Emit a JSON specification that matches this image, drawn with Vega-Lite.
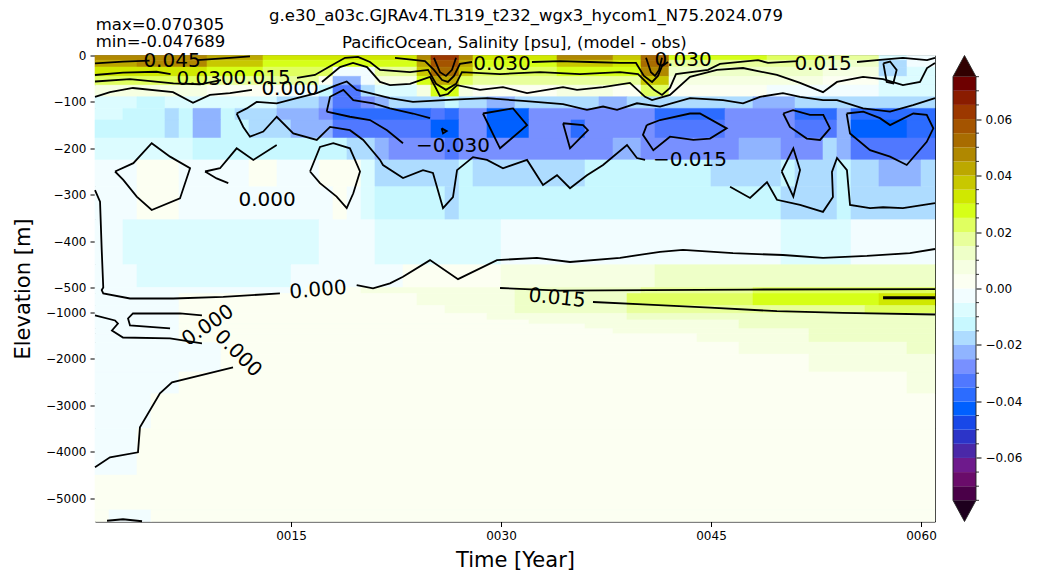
{
  "$schema": "https://vega.github.io/schema/vega-lite/v6.json",
  "autosize": {"type": "none"},
  "padding": {"left": 95, "top": 55.5, "right": 943, "bottom": 528.5},
  "background": "white",
  "config": {
    "font": "DejaVu Sans",
    "view": {"stroke": "#000", "strokeWidth": 1},
    "axis": {"labelFont": "DejaVu Sans", "titleFont": "DejaVu Sans", "labelColor": "#000", "titleColor": "#000", "tickColor": "#000", "domain": false, "grid": false, "titleFontWeight": "normal", "labelFontSize": 12, "titleFontSize": 21, "tickSize": 5}
  },
  "datasets": {
    "cells": [
      {"x0":1,"x1":9,"e0":0,"e1":-10,"v":0.0475},{"x0":9,"x1":13,"e0":0,"e1":-10,"v":0.0425},{"x0":13,"x1":24,"e0":0,"e1":-10,"v":0.0325},{"x0":24,"x1":25,"e0":0,"e1":-10,"v":0.0475},{"x0":25,"x1":27,"e0":0,"e1":-10,"v":0.0625},{"x0":27,"x1":28,"e0":0,"e1":-10,"v":0.0475},{"x0":28,"x1":34,"e0":0,"e1":-10,"v":0.0325},{"x0":34,"x1":38,"e0":0,"e1":-10,"v":0.0475},{"x0":38,"x1":40,"e0":0,"e1":-10,"v":0.0375},{"x0":40,"x1":42,"e0":0,"e1":-10,"v":0.0525},{"x0":42,"x1":49,"e0":0,"e1":-10,"v":0.0275},{"x0":49,"x1":53,"e0":0,"e1":-10,"v":0.0225},{"x0":53,"x1":57,"e0":0,"e1":-10,"v":0.0175},{"x0":57,"x1":59,"e0":0,"e1":-10,"v":-0.0075},{"x0":59,"x1":61,"e0":0,"e1":-10,"v":-0.0025},
      {"x0":1,"x1":4,"e0":-10,"e1":-25,"v":0.0425},{"x0":4,"x1":9,"e0":-10,"e1":-25,"v":0.0475},{"x0":9,"x1":13,"e0":-10,"e1":-25,"v":0.0375},{"x0":13,"x1":24,"e0":-10,"e1":-25,"v":0.0275},{"x0":24,"x1":25,"e0":-10,"e1":-25,"v":0.0425},{"x0":25,"x1":27,"e0":-10,"e1":-25,"v":0.0575},{"x0":27,"x1":28,"e0":-10,"e1":-25,"v":0.0425},{"x0":28,"x1":34,"e0":-10,"e1":-25,"v":0.0275},{"x0":34,"x1":38,"e0":-10,"e1":-25,"v":0.0375},{"x0":38,"x1":40,"e0":-10,"e1":-25,"v":0.0325},{"x0":40,"x1":42,"e0":-10,"e1":-25,"v":0.0525},{"x0":42,"x1":49,"e0":-10,"e1":-25,"v":0.0175},{"x0":49,"x1":53,"e0":-10,"e1":-25,"v":0.0175},{"x0":53,"x1":57,"e0":-10,"e1":-25,"v":0.0125},{"x0":57,"x1":59,"e0":-10,"e1":-25,"v":-0.0175},{"x0":59,"x1":61,"e0":-10,"e1":-25,"v":-0.0025},
      {"x0":1,"x1":9,"e0":-25,"e1":-45,"v":0.0325},{"x0":9,"x1":13,"e0":-25,"e1":-45,"v":0.0275},{"x0":13,"x1":18,"e0":-25,"e1":-45,"v":0.0225},{"x0":18,"x1":21,"e0":-25,"e1":-45,"v":-0.0025},{"x0":21,"x1":24,"e0":-25,"e1":-45,"v":0.0175},{"x0":24,"x1":25,"e0":-25,"e1":-45,"v":0.0375},{"x0":25,"x1":27,"e0":-25,"e1":-45,"v":0.0525},{"x0":27,"x1":28,"e0":-25,"e1":-45,"v":0.0375},{"x0":28,"x1":34,"e0":-25,"e1":-45,"v":0.0225},{"x0":34,"x1":40,"e0":-25,"e1":-45,"v":0.0275},{"x0":40,"x1":42,"e0":-25,"e1":-45,"v":0.0475},{"x0":42,"x1":49,"e0":-25,"e1":-45,"v":0.0125},{"x0":49,"x1":53,"e0":-25,"e1":-45,"v":0.0125},{"x0":53,"x1":57,"e0":-25,"e1":-45,"v":0.0075},{"x0":57,"x1":59,"e0":-25,"e1":-45,"v":-0.0175},{"x0":59,"x1":61,"e0":-25,"e1":-45,"v":-0.0075},
      {"x0":1,"x1":9,"e0":-45,"e1":-64,"v":0.0225},{"x0":9,"x1":17,"e0":-45,"e1":-64,"v":0.0175},{"x0":17,"x1":18,"e0":-45,"e1":-64,"v":0.0025},{"x0":18,"x1":20,"e0":-45,"e1":-64,"v":-0.0225},{"x0":20,"x1":21,"e0":-45,"e1":-64,"v":-0.0025},{"x0":21,"x1":24,"e0":-45,"e1":-64,"v":0.0075},{"x0":24,"x1":25,"e0":-45,"e1":-64,"v":0.0275},{"x0":25,"x1":27,"e0":-45,"e1":-64,"v":0.0425},{"x0":27,"x1":28,"e0":-45,"e1":-64,"v":0.0225},{"x0":28,"x1":40,"e0":-45,"e1":-64,"v":0.0175},{"x0":40,"x1":42,"e0":-45,"e1":-64,"v":0.0375},{"x0":42,"x1":49,"e0":-45,"e1":-64,"v":0.0075},{"x0":49,"x1":53,"e0":-45,"e1":-64,"v":0.0075},{"x0":53,"x1":57,"e0":-45,"e1":-64,"v":0.0025},{"x0":57,"x1":61,"e0":-45,"e1":-64,"v":-0.0075},
      {"x0":1,"x1":9,"e0":-64,"e1":-89,"v":0.0075},{"x0":9,"x1":15,"e0":-64,"e1":-89,"v":0.0025},{"x0":15,"x1":17,"e0":-64,"e1":-89,"v":-0.0025},{"x0":17,"x1":18,"e0":-64,"e1":-89,"v":-0.0125},{"x0":18,"x1":20,"e0":-64,"e1":-89,"v":-0.0325},{"x0":20,"x1":21,"e0":-64,"e1":-89,"v":-0.0175},{"x0":21,"x1":24,"e0":-64,"e1":-89,"v":-0.0075},{"x0":24,"x1":25,"e0":-64,"e1":-89,"v":0.0075},{"x0":25,"x1":27,"e0":-64,"e1":-89,"v":0.0275},{"x0":27,"x1":28,"e0":-64,"e1":-89,"v":0.0075},{"x0":28,"x1":34,"e0":-64,"e1":-89,"v":0.0025},{"x0":34,"x1":38,"e0":-64,"e1":-89,"v":0.0075},{"x0":38,"x1":40,"e0":-64,"e1":-89,"v":0.0025},{"x0":40,"x1":42,"e0":-64,"e1":-89,"v":0.0225},{"x0":42,"x1":49,"e0":-64,"e1":-89,"v":0.0025},{"x0":49,"x1":57,"e0":-64,"e1":-89,"v":-0.0025},{"x0":57,"x1":61,"e0":-64,"e1":-89,"v":-0.0075},
      {"x0":1,"x1":4,"e0":-89,"e1":-114,"v":-0.0075},{"x0":4,"x1":6,"e0":-89,"e1":-114,"v":-0.0125},{"x0":6,"x1":14,"e0":-89,"e1":-114,"v":-0.0075},{"x0":14,"x1":17,"e0":-89,"e1":-114,"v":-0.0175},{"x0":17,"x1":18,"e0":-89,"e1":-114,"v":-0.0225},{"x0":18,"x1":20,"e0":-89,"e1":-114,"v":-0.0325},{"x0":20,"x1":21,"e0":-89,"e1":-114,"v":-0.0275},{"x0":21,"x1":22,"e0":-89,"e1":-114,"v":-0.0225},{"x0":22,"x1":26,"e0":-89,"e1":-114,"v":-0.0175},{"x0":26,"x1":27,"e0":-89,"e1":-114,"v":-0.0125},{"x0":27,"x1":29,"e0":-89,"e1":-114,"v":-0.0175},{"x0":29,"x1":31,"e0":-89,"e1":-114,"v":-0.0225},{"x0":31,"x1":37,"e0":-89,"e1":-114,"v":-0.0175},{"x0":37,"x1":39,"e0":-89,"e1":-114,"v":-0.0225},{"x0":39,"x1":48,"e0":-89,"e1":-114,"v":-0.0175},{"x0":48,"x1":51,"e0":-89,"e1":-114,"v":-0.0225},{"x0":51,"x1":61,"e0":-89,"e1":-114,"v":-0.0175},
      {"x0":1,"x1":3,"e0":-114,"e1":-139,"v":-0.0075},{"x0":3,"x1":6,"e0":-114,"e1":-139,"v":-0.0125},{"x0":6,"x1":7,"e0":-114,"e1":-139,"v":-0.0175},{"x0":7,"x1":8,"e0":-114,"e1":-139,"v":-0.0125},{"x0":8,"x1":10,"e0":-114,"e1":-139,"v":-0.0225},{"x0":10,"x1":11,"e0":-114,"e1":-139,"v":-0.0125},{"x0":11,"x1":14,"e0":-114,"e1":-139,"v":-0.0175},{"x0":14,"x1":17,"e0":-114,"e1":-139,"v":-0.0225},{"x0":17,"x1":18,"e0":-114,"e1":-139,"v":-0.0275},{"x0":18,"x1":25,"e0":-114,"e1":-139,"v":-0.0375},{"x0":25,"x1":26,"e0":-114,"e1":-139,"v":-0.0325},{"x0":26,"x1":27,"e0":-114,"e1":-139,"v":-0.0375},{"x0":27,"x1":29,"e0":-114,"e1":-139,"v":-0.0275},{"x0":29,"x1":32,"e0":-114,"e1":-139,"v":-0.0425},{"x0":32,"x1":41,"e0":-114,"e1":-139,"v":-0.0275},{"x0":41,"x1":46,"e0":-114,"e1":-139,"v":-0.0375},{"x0":46,"x1":51,"e0":-114,"e1":-139,"v":-0.0275},{"x0":51,"x1":54,"e0":-114,"e1":-139,"v":-0.0375},{"x0":54,"x1":55,"e0":-114,"e1":-139,"v":-0.0225},{"x0":55,"x1":61,"e0":-114,"e1":-139,"v":-0.0375},
      {"x0":1,"x1":6,"e0":-139,"e1":-178,"v":-0.0125},{"x0":6,"x1":7,"e0":-139,"e1":-178,"v":-0.0175},{"x0":7,"x1":8,"e0":-139,"e1":-178,"v":-0.0125},{"x0":8,"x1":10,"e0":-139,"e1":-178,"v":-0.0225},{"x0":10,"x1":12,"e0":-139,"e1":-178,"v":-0.0125},{"x0":12,"x1":15,"e0":-139,"e1":-178,"v":-0.0175},{"x0":15,"x1":18,"e0":-139,"e1":-178,"v":-0.0225},{"x0":18,"x1":25,"e0":-139,"e1":-178,"v":-0.0325},{"x0":25,"x1":27,"e0":-139,"e1":-178,"v":-0.0425},{"x0":27,"x1":29,"e0":-139,"e1":-178,"v":-0.0275},{"x0":29,"x1":32,"e0":-139,"e1":-178,"v":-0.0425},{"x0":32,"x1":35,"e0":-139,"e1":-178,"v":-0.0275},{"x0":35,"x1":36,"e0":-139,"e1":-178,"v":-0.0375},{"x0":36,"x1":41,"e0":-139,"e1":-178,"v":-0.0275},{"x0":41,"x1":46,"e0":-139,"e1":-178,"v":-0.0325},{"x0":46,"x1":51,"e0":-139,"e1":-178,"v":-0.0275},{"x0":51,"x1":54,"e0":-139,"e1":-178,"v":-0.0325},{"x0":54,"x1":55,"e0":-139,"e1":-178,"v":-0.0225},{"x0":55,"x1":59,"e0":-139,"e1":-178,"v":-0.0425},{"x0":59,"x1":61,"e0":-139,"e1":-178,"v":-0.0375},
      {"x0":1,"x1":8,"e0":-178,"e1":-225,"v":-0.0075},{"x0":8,"x1":19,"e0":-178,"e1":-225,"v":-0.0125},{"x0":19,"x1":21,"e0":-178,"e1":-225,"v":-0.0175},{"x0":21,"x1":22,"e0":-178,"e1":-225,"v":-0.0225},{"x0":22,"x1":26,"e0":-178,"e1":-225,"v":-0.0275},{"x0":26,"x1":27,"e0":-178,"e1":-225,"v":-0.0325},{"x0":27,"x1":38,"e0":-178,"e1":-225,"v":-0.0275},{"x0":38,"x1":40,"e0":-178,"e1":-225,"v":-0.0225},{"x0":40,"x1":47,"e0":-178,"e1":-225,"v":-0.0275},{"x0":47,"x1":50,"e0":-178,"e1":-225,"v":-0.0225},{"x0":50,"x1":53,"e0":-178,"e1":-225,"v":-0.0275},{"x0":53,"x1":54,"e0":-178,"e1":-225,"v":-0.0175},{"x0":54,"x1":55,"e0":-178,"e1":-225,"v":-0.0225},{"x0":55,"x1":61,"e0":-178,"e1":-225,"v":-0.0325},
      {"x0":1,"x1":4,"e0":-225,"e1":-283,"v":-0.0025},{"x0":4,"x1":7,"e0":-225,"e1":-283,"v":0.0025},{"x0":7,"x1":12,"e0":-225,"e1":-283,"v":-0.0025},{"x0":12,"x1":14,"e0":-225,"e1":-283,"v":0.0025},{"x0":14,"x1":17,"e0":-225,"e1":-283,"v":-0.0025},{"x0":17,"x1":20,"e0":-225,"e1":-283,"v":0.0025},{"x0":20,"x1":21,"e0":-225,"e1":-283,"v":-0.0075},{"x0":21,"x1":27,"e0":-225,"e1":-283,"v":-0.0175},{"x0":27,"x1":28,"e0":-225,"e1":-283,"v":-0.0125},{"x0":28,"x1":36,"e0":-225,"e1":-283,"v":-0.0175},{"x0":36,"x1":45,"e0":-225,"e1":-283,"v":-0.0125},{"x0":45,"x1":50,"e0":-225,"e1":-283,"v":-0.0175},{"x0":50,"x1":51,"e0":-225,"e1":-283,"v":-0.0125},{"x0":51,"x1":54,"e0":-225,"e1":-283,"v":-0.0175},{"x0":54,"x1":55,"e0":-225,"e1":-283,"v":-0.0125},{"x0":55,"x1":57,"e0":-225,"e1":-283,"v":-0.0175},{"x0":57,"x1":60,"e0":-225,"e1":-283,"v":-0.0225},{"x0":60,"x1":61,"e0":-225,"e1":-283,"v":-0.0175},
      {"x0":1,"x1":4,"e0":-283,"e1":-354,"v":-0.0025},{"x0":4,"x1":7,"e0":-283,"e1":-354,"v":0.0025},{"x0":7,"x1":18,"e0":-283,"e1":-354,"v":-0.0025},{"x0":18,"x1":19,"e0":-283,"e1":-354,"v":0.0025},{"x0":19,"x1":20,"e0":-283,"e1":-354,"v":-0.0025},{"x0":20,"x1":21,"e0":-283,"e1":-354,"v":-0.0075},{"x0":21,"x1":26,"e0":-283,"e1":-354,"v":-0.0125},{"x0":26,"x1":27,"e0":-283,"e1":-354,"v":-0.0175},{"x0":27,"x1":50,"e0":-283,"e1":-354,"v":-0.0125},{"x0":50,"x1":54,"e0":-283,"e1":-354,"v":-0.0175},{"x0":54,"x1":55,"e0":-283,"e1":-354,"v":-0.0125},{"x0":55,"x1":61,"e0":-283,"e1":-354,"v":-0.0175},
      {"x0":1,"x1":3,"e0":-354,"e1":-451,"v":-0.0025},{"x0":3,"x1":17,"e0":-354,"e1":-451,"v":-0.0075},{"x0":17,"x1":21,"e0":-354,"e1":-451,"v":-0.0025},{"x0":21,"x1":30,"e0":-354,"e1":-451,"v":-0.0075},{"x0":30,"x1":50,"e0":-354,"e1":-451,"v":-0.0025},{"x0":50,"x1":55,"e0":-354,"e1":-451,"v":-0.0075},{"x0":55,"x1":61,"e0":-354,"e1":-451,"v":-0.0025},
      {"x0":1,"x1":4,"e0":-451,"e1":-500,"v":-0.0025},{"x0":4,"x1":15,"e0":-451,"e1":-500,"v":-0.0075},{"x0":15,"x1":23,"e0":-451,"e1":-500,"v":-0.0025},{"x0":23,"x1":30,"e0":-451,"e1":-500,"v":0.0025},{"x0":30,"x1":41,"e0":-451,"e1":-500,"v":0.0075},{"x0":41,"x1":61,"e0":-451,"e1":-500,"v":0.0125},
      {"x0":1,"x1":16,"e0":-500,"e1":-620,"v":-0.0025},{"x0":16,"x1":20,"e0":-500,"e1":-620,"v":0.0025},{"x0":20,"x1":31,"e0":-500,"e1":-620,"v":0.0075},{"x0":31,"x1":40,"e0":-500,"e1":-620,"v":0.0125},{"x0":40,"x1":48,"e0":-500,"e1":-620,"v":0.0175},{"x0":48,"x1":61,"e0":-500,"e1":-620,"v":0.0225},
      {"x0":1,"x1":7,"e0":-620,"e1":-860,"v":-0.0025},{"x0":7,"x1":24,"e0":-620,"e1":-860,"v":0.0025},{"x0":24,"x1":31,"e0":-620,"e1":-860,"v":0.0075},{"x0":31,"x1":39,"e0":-620,"e1":-860,"v":0.0125},{"x0":39,"x1":48,"e0":-620,"e1":-860,"v":0.0225},{"x0":48,"x1":57,"e0":-620,"e1":-860,"v":0.0275},{"x0":57,"x1":61,"e0":-620,"e1":-860,"v":0.0325},
      {"x0":1,"x1":7,"e0":-860,"e1":-1020,"v":-0.0025},{"x0":7,"x1":26,"e0":-860,"e1":-1020,"v":0.0025},{"x0":26,"x1":31,"e0":-860,"e1":-1020,"v":0.0075},{"x0":31,"x1":39,"e0":-860,"e1":-1020,"v":0.0125},{"x0":39,"x1":56,"e0":-860,"e1":-1020,"v":0.0175},{"x0":56,"x1":61,"e0":-860,"e1":-1020,"v":0.0225},
      {"x0":1,"x1":7,"e0":-1020,"e1":-1160,"v":-0.0025},{"x0":7,"x1":29,"e0":-1020,"e1":-1160,"v":0.0025},{"x0":29,"x1":39,"e0":-1020,"e1":-1160,"v":0.0075},{"x0":39,"x1":61,"e0":-1020,"e1":-1160,"v":0.0125},
      {"x0":1,"x1":7,"e0":-1160,"e1":-1245,"v":-0.0025},{"x0":7,"x1":32,"e0":-1160,"e1":-1245,"v":0.0025},{"x0":32,"x1":47,"e0":-1160,"e1":-1245,"v":0.0075},{"x0":47,"x1":61,"e0":-1160,"e1":-1245,"v":0.0125},
      {"x0":1,"x1":7,"e0":-1245,"e1":-1350,"v":-0.0025},{"x0":7,"x1":36,"e0":-1245,"e1":-1350,"v":0.0025},{"x0":36,"x1":47,"e0":-1245,"e1":-1350,"v":0.0075},{"x0":47,"x1":61,"e0":-1245,"e1":-1350,"v":0.0125},
      {"x0":1,"x1":7,"e0":-1350,"e1":-1460,"v":-0.0025},{"x0":7,"x1":38,"e0":-1350,"e1":-1460,"v":0.0025},{"x0":38,"x1":52,"e0":-1350,"e1":-1460,"v":0.0075},{"x0":52,"x1":61,"e0":-1350,"e1":-1460,"v":0.0125},
      {"x0":1,"x1":7,"e0":-1460,"e1":-1640,"v":-0.0025},{"x0":7,"x1":44,"e0":-1460,"e1":-1640,"v":0.0025},{"x0":44,"x1":52,"e0":-1460,"e1":-1640,"v":0.0075},{"x0":52,"x1":61,"e0":-1460,"e1":-1640,"v":0.0125},
      {"x0":1,"x1":10,"e0":-1640,"e1":-1900,"v":-0.0025},{"x0":10,"x1":47,"e0":-1640,"e1":-1900,"v":0.0025},{"x0":47,"x1":59,"e0":-1640,"e1":-1900,"v":0.0075},{"x0":59,"x1":61,"e0":-1640,"e1":-1900,"v":0.0125},
      {"x0":1,"x1":10,"e0":-1900,"e1":-2280,"v":-0.0025},{"x0":10,"x1":52,"e0":-1900,"e1":-2280,"v":0.0025},{"x0":52,"x1":61,"e0":-1900,"e1":-2280,"v":0.0075},
      {"x0":1,"x1":7,"e0":-2280,"e1":-2750,"v":-0.0025},{"x0":7,"x1":59,"e0":-2280,"e1":-2750,"v":0.0025},{"x0":59,"x1":61,"e0":-2280,"e1":-2750,"v":0.0075},
      {"x0":1,"x1":5,"e0":-2750,"e1":-3500,"v":-0.0025},{"x0":5,"x1":61,"e0":-2750,"e1":-3500,"v":0.0025},
      {"x0":1,"x1":4,"e0":-3500,"e1":-4500,"v":-0.0025},{"x0":4,"x1":61,"e0":-3500,"e1":-4500,"v":0.0025},
      {"x0":1,"x1":61,"e0":-4500,"e1":-5250,"v":0.0025},
      {"x0":1,"x1":2,"e0":-5250,"e1":-5500,"v":0.0025},{"x0":2,"x1":5,"e0":-5250,"e1":-5500,"v":-0.0025},{"x0":5,"x1":61,"e0":-5250,"e1":-5500,"v":0.0025}
    ],
    "contours": [
      {"id":"t045a","o":1,"yr":1.0,"el":-17},{"id":"t045a","o":2,"yr":3.0,"el":-13},{"id":"t045a","o":3,"yr":4.9,"el":-11},
      {"id":"t045b","o":1,"yr":8.29,"el":-10},{"id":"t045b","o":2,"yr":10.64,"el":-5},{"id":"t045b","o":3,"yr":12.07,"el":-2},
      {"id":"p1","o":1,"yr":25.21,"el":-5},{"id":"p1","o":2,"yr":25.64,"el":-36},{"id":"p1","o":3,"yr":26.07,"el":-44},{"id":"p1","o":4,"yr":26.5,"el":-31},{"id":"p1","o":5,"yr":26.79,"el":-5},
      {"id":"p2","o":1,"yr":40.36,"el":-5},{"id":"p2","o":2,"yr":40.71,"el":-36},{"id":"p2","o":3,"yr":41.0,"el":-44},{"id":"p2","o":4,"yr":41.29,"el":-31},{"id":"p2","o":5,"yr":41.5,"el":-5},
      {"id":"t030a","o":1,"yr":1.0,"el":-42},{"id":"t030a","o":2,"yr":3.0,"el":-37},{"id":"t030a","o":3,"yr":5.4,"el":-35},{"id":"t030a","o":4,"yr":6.4,"el":-40},
      {"id":"t030m","o":1,"yr":22.43,"el":-5},{"id":"t030m","o":2,"yr":24.57,"el":-12},{"id":"t030m","o":3,"yr":25.21,"el":-31},{"id":"t030m","o":4,"yr":25.79,"el":-53},{"id":"t030m","o":5,"yr":26.21,"el":-57},{"id":"t030m","o":6,"yr":26.64,"el":-44},{"id":"t030m","o":7,"yr":27.07,"el":-18},{"id":"t030m","o":8,"yr":27.93,"el":-14},
      {"id":"t030n","o":1,"yr":32.21,"el":-14},{"id":"t030n","o":2,"yr":34.21,"el":-12},{"id":"t030n","o":3,"yr":36.36,"el":-14},{"id":"t030n","o":4,"yr":38.5,"el":-16},{"id":"t030n","o":5,"yr":39.64,"el":-16},{"id":"t030n","o":6,"yr":40.21,"el":-44},{"id":"t030n","o":7,"yr":40.79,"el":-57},{"id":"t030n","o":8,"yr":41.21,"el":-44},{"id":"t030n","o":9,"yr":41.5,"el":-23},{"id":"t030n","o":10,"yr":41.93,"el":-14},
      {"id":"t015a","o":1,"yr":1.0,"el":-56},{"id":"t015a","o":2,"yr":3.5,"el":-51},{"id":"t015a","o":3,"yr":6.6,"el":-60},{"id":"t015a","o":4,"yr":8.5,"el":-62},{"id":"t015a","o":5,"yr":10.0,"el":-53},
      {"id":"t015m","o":1,"yr":15.43,"el":-48},{"id":"t015m","o":2,"yr":16.71,"el":-42},{"id":"t015m","o":3,"yr":17.79,"el":-23},{"id":"t015m","o":4,"yr":18.86,"el":-5},{"id":"t015m","o":5,"yr":19.79,"el":-3},{"id":"t015m","o":6,"yr":20.64,"el":-14},{"id":"t015m","o":7,"yr":21.36,"el":-31},{"id":"t015m","o":8,"yr":23.5,"el":-36},{"id":"t015m","o":9,"yr":24.79,"el":-31},{"id":"t015m","o":10,"yr":25.36,"el":-61},{"id":"t015m","o":11,"yr":26.07,"el":-74},{"id":"t015m","o":12,"yr":26.79,"el":-61},{"id":"t015m","o":13,"yr":27.21,"el":-36},{"id":"t015m","o":14,"yr":29.93,"el":-40},{"id":"t015m","o":15,"yr":32.79,"el":-36},{"id":"t015m","o":16,"yr":35.64,"el":-40},{"id":"t015m","o":17,"yr":38.5,"el":-36},{"id":"t015m","o":18,"yr":39.79,"el":-40},{"id":"t015m","o":19,"yr":40.93,"el":-74},{"id":"t015m","o":20,"yr":41.5,"el":-85},{"id":"t015m","o":21,"yr":42.07,"el":-70},{"id":"t015m","o":22,"yr":42.5,"el":-40},{"id":"t015m","o":23,"yr":44.79,"el":-31},{"id":"t015m","o":24,"yr":45.64,"el":-18},{"id":"t015m","o":25,"yr":48.36,"el":-10},{"id":"t015m","o":26,"yr":49.07,"el":-16},{"id":"t015m","o":27,"yr":51.21,"el":-12},
      {"id":"t015r","o":1,"yr":55.43,"el":-14},{"id":"t015r","o":2,"yr":56.86,"el":-10},{"id":"t015r","o":3,"yr":58.71,"el":-5},{"id":"t015r","o":4,"yr":60.43,"el":-10},{"id":"t015r","o":5,"yr":61.0,"el":-5},
      {"id":"u0a","o":1,"yr":1.0,"el":-89},{"id":"u0a","o":2,"yr":2.07,"el":-79},{"id":"u0a","o":3,"yr":3.71,"el":-70},{"id":"u0a","o":4,"yr":6.57,"el":-79},{"id":"u0a","o":5,"yr":8.0,"el":-102},{"id":"u0a","o":6,"yr":9.21,"el":-85},{"id":"u0a","o":7,"yr":10.64,"el":-81},{"id":"u0a","o":8,"yr":12.21,"el":-74},
      {"id":"u0b","o":1,"yr":17.21,"el":-57},{"id":"u0b","o":2,"yr":18.5,"el":-25},{"id":"u0b","o":3,"yr":19.43,"el":-16},{"id":"u0b","o":4,"yr":20.43,"el":-25},{"id":"u0b","o":5,"yr":21.36,"el":-57},{"id":"u0b","o":6,"yr":22.07,"el":-64},{"id":"u0b","o":7,"yr":23.5,"el":-61},{"id":"u0b","o":8,"yr":24.93,"el":-46},{"id":"u0b","o":9,"yr":25.64,"el":-87},{"id":"u0b","o":10,"yr":26.21,"el":-83},{"id":"u0b","o":11,"yr":26.86,"el":-64},{"id":"u0b","o":12,"yr":28.5,"el":-74},{"id":"u0b","o":13,"yr":30.14,"el":-68},{"id":"u0b","o":14,"yr":31.86,"el":-81},{"id":"u0b","o":15,"yr":34.43,"el":-68},{"id":"u0b","o":16,"yr":35.43,"el":-74},{"id":"u0b","o":17,"yr":37.29,"el":-68},{"id":"u0b","o":18,"yr":39.21,"el":-59},{"id":"u0b","o":19,"yr":40.29,"el":-89},{"id":"u0b","o":20,"yr":40.79,"el":-96},{"id":"u0b","o":21,"yr":42.07,"el":-85},{"id":"u0b","o":22,"yr":43.5,"el":-46},{"id":"u0b","o":23,"yr":45.43,"el":-31},{"id":"u0b","o":24,"yr":47.29,"el":-27},{"id":"u0b","o":25,"yr":49.71,"el":-42},{"id":"u0b","o":26,"yr":51.36,"el":-59},{"id":"u0b","o":27,"yr":53.0,"el":-79},{"id":"u0b","o":28,"yr":54.0,"el":-57},{"id":"u0b","o":29,"yr":55.86,"el":-46},{"id":"u0b","o":30,"yr":57.29,"el":-51},{"id":"u0b","o":31,"yr":58.71,"el":-64},{"id":"u0b","o":32,"yr":59.93,"el":-57},{"id":"u0b","o":33,"yr":60.43,"el":-27},{"id":"u0b","o":34,"yr":61.0,"el":-16},
      {"id":"u15u","o":1,"yr":11.12,"el":-125},{"id":"u15u","o":2,"yr":11.84,"el":-114},{"id":"u15u","o":3,"yr":12.55,"el":-100},{"id":"u15u","o":4,"yr":13.98,"el":-103},{"id":"u15u","o":5,"yr":15.41,"el":-92},{"id":"u15u","o":6,"yr":16.84,"el":-81},{"id":"u15u","o":7,"yr":18.26,"el":-64},{"id":"u15u","o":8,"yr":18.98,"el":-56},{"id":"u15u","o":9,"yr":19.69,"el":-74},{"id":"u15u","o":10,"yr":20.64,"el":-81},{"id":"u15u","o":11,"yr":22.07,"el":-92},{"id":"u15u","o":12,"yr":23.71,"el":-100},{"id":"u15u","o":13,"yr":26.57,"el":-95},{"id":"u15u","o":14,"yr":29.0,"el":-92},{"id":"u15u","o":15,"yr":31.57,"el":-98},{"id":"u15u","o":16,"yr":34.43,"el":-105},{"id":"u15u","o":17,"yr":36.14,"el":-117},{"id":"u15u","o":18,"yr":37.29,"el":-110},{"id":"u15u","o":19,"yr":38.29,"el":-117},{"id":"u15u","o":20,"yr":39.71,"el":-103},{"id":"u15u","o":21,"yr":41.36,"el":-110},{"id":"u15u","o":22,"yr":43.5,"el":-92},{"id":"u15u","o":23,"yr":45.86,"el":-96},{"id":"u15u","o":24,"yr":47.29,"el":-103},{"id":"u15u","o":25,"yr":48.5,"el":-89},{"id":"u15u","o":26,"yr":50.14,"el":-81},{"id":"u15u","o":27,"yr":51.36,"el":-89},{"id":"u15u","o":28,"yr":53.0,"el":-96},{"id":"u15u","o":29,"yr":54.0,"el":-96},{"id":"u15u","o":30,"yr":55.86,"el":-114},{"id":"u15u","o":31,"yr":57.79,"el":-121},{"id":"u15u","o":32,"yr":59.43,"el":-107},{"id":"u15u","o":33,"yr":61.0,"el":-92},
      {"id":"u15l","o":1,"yr":11.12,"el":-125},{"id":"u15l","o":2,"yr":11.59,"el":-154},{"id":"u15l","o":3,"yr":12.07,"el":-175},{"id":"u15l","o":4,"yr":13.02,"el":-164},{"id":"u15l","o":5,"yr":13.98,"el":-132},{"id":"u15l","o":6,"yr":15.16,"el":-168},{"id":"u15l","o":7,"yr":16.84,"el":-182},{"id":"u15l","o":8,"yr":17.79,"el":-154},{"id":"u15l","o":9,"yr":19.21,"el":-161},{"id":"u15l","o":10,"yr":20.16,"el":-182},{"id":"u15l","o":11,"yr":21.36,"el":-225},{"id":"u15l","o":12,"yr":21.57,"el":-236},{"id":"u15l","o":13,"yr":23.0,"el":-264},{"id":"u15l","o":14,"yr":24.43,"el":-247},{"id":"u15l","o":15,"yr":25.14,"el":-253},{"id":"u15l","o":16,"yr":25.86,"el":-329},{"id":"u15l","o":17,"yr":26.57,"el":-305},{"id":"u15l","o":18,"yr":26.86,"el":-247},{"id":"u15l","o":19,"yr":28.0,"el":-219},{"id":"u15l","o":20,"yr":29.0,"el":-225},{"id":"u15l","o":21,"yr":30.14,"el":-243},{"id":"u15l","o":22,"yr":31.86,"el":-225},{"id":"u15l","o":23,"yr":33.0,"el":-279},{"id":"u15l","o":24,"yr":34.0,"el":-258},{"id":"u15l","o":25,"yr":34.93,"el":-286},{"id":"u15l","o":26,"yr":36.14,"el":-258},{"id":"u15l","o":27,"yr":37.29,"el":-236},{"id":"u15l","o":28,"yr":39.0,"el":-193},{"id":"u15l","o":29,"yr":39.71,"el":-221},{"id":"u15l","o":30,"yr":40.29,"el":-225},
      {"id":"u15m","o":1,"yr":46.36,"el":-283},{"id":"u15m","o":2,"yr":47.79,"el":-307},{"id":"u15m","o":3,"yr":49.0,"el":-273},{"id":"u15m","o":4,"yr":49.71,"el":-311},{"id":"u15m","o":5,"yr":51.36,"el":-322},{"id":"u15m","o":6,"yr":53.0,"el":-337},{"id":"u15m","o":7,"yr":53.71,"el":-305},{"id":"u15m","o":8,"yr":53.64,"el":-251},{"id":"u15m","o":9,"yr":54.0,"el":-221},{"id":"u15m","o":10,"yr":54.71,"el":-247},{"id":"u15m","o":11,"yr":54.93,"el":-322},{"id":"u15m","o":12,"yr":56.36,"el":-329},{"id":"u15m","o":13,"yr":57.29,"el":-327},{"id":"u15m","o":14,"yr":58.71,"el":-329},{"id":"u15m","o":15,"yr":61.0,"el":-318},
      {"id":"c30a","o":1,"yr":17.55,"el":-121},{"id":"c30a","o":2,"yr":17.79,"el":-89},{"id":"c30a","o":3,"yr":18.74,"el":-74},{"id":"c30a","o":4,"yr":19.45,"el":-96},{"id":"c30a","o":5,"yr":20.88,"el":-103},{"id":"c30a","o":6,"yr":22.07,"el":-114},{"id":"c30a","o":7,"yr":23.71,"el":-125},{"id":"c30a","o":8,"yr":24.93,"el":-135},
      {"id":"c30b","o":1,"yr":17.55,"el":-121},{"id":"c30b","o":2,"yr":19.21,"el":-132},{"id":"c30b","o":3,"yr":20.64,"el":-139},{"id":"c30b","o":4,"yr":21.86,"el":-161},{"id":"c30b","o":5,"yr":23.0,"el":-189},
      {"id":"box1","o":1,"yr":28.71,"el":-125},{"id":"box1","o":2,"yr":30.86,"el":-114},{"id":"box1","o":3,"yr":31.86,"el":-150},{"id":"box1","o":4,"yr":29.93,"el":-200},{"id":"box1","o":5,"yr":28.71,"el":-125},
      {"id":"box2","o":1,"yr":34.43,"el":-146},{"id":"box2","o":2,"yr":35.86,"el":-150},{"id":"box2","o":3,"yr":36.21,"el":-161},{"id":"box2","o":4,"yr":34.93,"el":-200},{"id":"box2","o":5,"yr":34.43,"el":-146},
      {"id":"dot","o":1,"yr":25.76,"el":-157},{"id":"dot","o":2,"yr":26.12,"el":-163},{"id":"dot","o":3,"yr":25.86,"el":-168},{"id":"dot","o":4,"yr":25.76,"el":-157},
      {"id":"boxd","o":1,"yr":40.41,"el":-150},{"id":"boxd","o":2,"yr":41.36,"el":-139},{"id":"boxd","o":3,"yr":43.5,"el":-125},{"id":"boxd","o":4,"yr":44.21,"el":-125},{"id":"boxd","o":5,"yr":46.12,"el":-157},{"id":"boxd","o":6,"yr":44.93,"el":-179},{"id":"boxd","o":7,"yr":43.74,"el":-182},{"id":"boxd","o":8,"yr":42.07,"el":-175},{"id":"boxd","o":9,"yr":40.88,"el":-204},{"id":"boxd","o":10,"yr":40.14,"el":-171},{"id":"boxd","o":11,"yr":40.41,"el":-150},
      {"id":"box3","o":1,"yr":50.16,"el":-125},{"id":"box3","o":2,"yr":50.86,"el":-118},{"id":"box3","o":3,"yr":52.07,"el":-128},{"id":"box3","o":4,"yr":53.02,"el":-128},{"id":"box3","o":5,"yr":53.5,"el":-157},{"id":"box3","o":6,"yr":52.79,"el":-182},{"id":"box3","o":7,"yr":51.84,"el":-179},{"id":"box3","o":8,"yr":50.64,"el":-154},{"id":"box3","o":9,"yr":50.16,"el":-125},
      {"id":"box4","o":1,"yr":54.69,"el":-125},{"id":"box4","o":2,"yr":55.88,"el":-121},{"id":"box4","o":3,"yr":57.07,"el":-135},{"id":"box4","o":4,"yr":57.79,"el":-150},{"id":"box4","o":5,"yr":59.45,"el":-125},{"id":"box4","o":6,"yr":60.41,"el":-128},{"id":"box4","o":7,"yr":60.88,"el":-157},{"id":"box4","o":8,"yr":60.41,"el":-186},{"id":"box4","o":9,"yr":58.98,"el":-236},{"id":"box4","o":10,"yr":57.79,"el":-218},{"id":"box4","o":11,"yr":56.36,"el":-204},{"id":"box4","o":12,"yr":54.93,"el":-168},{"id":"box4","o":13,"yr":54.69,"el":-125},
      {"id":"diam","o":1,"yr":50.05,"el":-250},{"id":"diam","o":2,"yr":50.88,"el":-200},{"id":"diam","o":3,"yr":51.36,"el":-247},{"id":"diam","o":4,"yr":50.88,"el":-304},{"id":"diam","o":5,"yr":50.05,"el":-250},
      {"id":"tr","o":1,"yr":57.31,"el":-17},{"id":"tr","o":2,"yr":57.79,"el":-13},{"id":"tr","o":3,"yr":58.26,"el":-31},{"id":"tr","o":4,"yr":58.02,"el":-60},{"id":"tr","o":5,"yr":57.55,"el":-57},{"id":"tr","o":6,"yr":57.31,"el":-17},
      {"id":"loopA","o":1,"yr":2.43,"el":-250},{"id":"loopA","o":2,"yr":3.74,"el":-232},{"id":"loopA","o":3,"yr":5.05,"el":-189},{"id":"loopA","o":4,"yr":6.36,"el":-218},{"id":"loopA","o":5,"yr":7.79,"el":-243},{"id":"loopA","o":6,"yr":7.07,"el":-308},{"id":"loopA","o":7,"yr":5.05,"el":-333},{"id":"loopA","o":8,"yr":3.98,"el":-304},{"id":"loopA","o":9,"yr":3.02,"el":-268},{"id":"loopA","o":10,"yr":2.43,"el":-250},
      {"id":"openB1","o":1,"yr":8.86,"el":-250},{"id":"openB1","o":2,"yr":9.93,"el":-243},{"id":"openB1","o":3,"yr":11.12,"el":-200},{"id":"openB1","o":4,"yr":12.31,"el":-225},{"id":"openB1","o":5,"yr":13.98,"el":-193},
      {"id":"openB2","o":1,"yr":8.86,"el":-250},{"id":"openB2","o":2,"yr":9.69,"el":-265},{"id":"openB2","o":3,"yr":10.52,"el":-275},
      {"id":"loopC","o":1,"yr":16.36,"el":-250},{"id":"loopC","o":2,"yr":17.07,"el":-197},{"id":"loopC","o":3,"yr":18.02,"el":-189},{"id":"loopC","o":4,"yr":19.21,"el":-200},{"id":"loopC","o":5,"yr":19.93,"el":-250},{"id":"loopC","o":6,"yr":19.45,"el":-297},{"id":"loopC","o":7,"yr":18.98,"el":-329},{"id":"loopC","o":8,"yr":18.26,"el":-304},{"id":"loopC","o":9,"yr":17.07,"el":-275},{"id":"loopC","o":10,"yr":16.36,"el":-250},
      {"id":"z1","o":1,"yr":1.0,"el":-290},{"id":"z1","o":2,"yr":1.36,"el":-315},{"id":"z1","o":3,"yr":1.48,"el":-419},{"id":"z1","o":4,"yr":1.59,"el":-500},{"id":"z1","o":5,"yr":1.48,"el":-551},{"id":"z1","o":6,"yr":1.59,"el":-618},{"id":"z1","o":7,"yr":3.5,"el":-720},{"id":"z1","o":8,"yr":6.59,"el":-720},{"id":"z1","o":9,"yr":10.16,"el":-688},{"id":"z1","o":10,"yr":14.21,"el":-618},
      {"id":"z2","o":1,"yr":19.69,"el":-495},{"id":"z2","o":2,"yr":20.86,"el":-516},{"id":"z2","o":3,"yr":22.07,"el":-491},{"id":"z2","o":4,"yr":23.0,"el":-477},{"id":"z2","o":5,"yr":24.93,"el":-441},{"id":"z2","o":6,"yr":26.93,"el":-482},{"id":"z2","o":7,"yr":29.71,"el":-441},{"id":"z2","o":8,"yr":32.57,"el":-436},{"id":"z2","o":9,"yr":34.93,"el":-445},{"id":"z2","o":10,"yr":38.5,"el":-436},{"id":"z2","o":11,"yr":41.36,"el":-423},{"id":"z2","o":12,"yr":43.0,"el":-419},{"id":"z2","o":13,"yr":46.57,"el":-426},{"id":"z2","o":14,"yr":50.14,"el":-430},{"id":"z2","o":15,"yr":53.0,"el":-436},{"id":"z2","o":16,"yr":56.14,"el":-432},{"id":"z2","o":17,"yr":59.21,"el":-426},{"id":"z2","o":18,"yr":61.0,"el":-417},
      {"id":"d1","o":1,"yr":1.0,"el":-1064},{"id":"d1","o":2,"yr":2.43,"el":-1172},{"id":"d1","o":3,"yr":2.64,"el":-1237},{"id":"d1","o":4,"yr":2.21,"el":-1387},{"id":"d1","o":5,"yr":3.0,"el":-1538},{"id":"d1","o":6,"yr":6.36,"el":-1559},{"id":"d1","o":7,"yr":8.64,"el":-1667},
      {"id":"d2","o":1,"yr":8.64,"el":-1064},{"id":"d2","o":2,"yr":7.07,"el":-1021},{"id":"d2","o":3,"yr":3.71,"el":-1021},{"id":"d2","o":4,"yr":3.36,"el":-1129},{"id":"d2","o":5,"yr":3.5,"el":-1280},{"id":"d2","o":6,"yr":6.36,"el":-1344},
      {"id":"d3","o":1,"yr":10.86,"el":-2183},{"id":"d3","o":2,"yr":6.5,"el":-2505},{"id":"d3","o":3,"yr":5.64,"el":-2742},{"id":"d3","o":4,"yr":4.21,"el":-3473},{"id":"d3","o":5,"yr":4.07,"el":-4011},{"id":"d3","o":6,"yr":2.07,"el":-4118},{"id":"d3","o":7,"yr":1.0,"el":-4333},
      {"id":"d4","o":1,"yr":1.86,"el":-5484},{"id":"d4","o":2,"yr":3.0,"el":-5452},{"id":"d4","o":3,"yr":4.36,"el":-5495},
      {"id":"e1","o":1,"yr":29.93,"el":-510},{"id":"e1","o":2,"yr":34.21,"el":-561},{"id":"e1","o":3,"yr":40.64,"el":-551},{"id":"e1","o":4,"yr":47.79,"el":-541},{"id":"e1","o":5,"yr":61.0,"el":-531},
      {"id":"e2","o":1,"yr":36.57,"el":-790},{"id":"e2","o":2,"yr":40.14,"el":-837},{"id":"e2","o":3,"yr":44.93,"el":-904},{"id":"e2","o":4,"yr":49.71,"el":-974},{"id":"e2","o":5,"yr":54.43,"el":-1007},{"id":"e2","o":6,"yr":61.0,"el":-1043}
    ],
    "thick": [
      {"id":"e3","o":1,"yr":57.29,"el":-704},{"id":"e3","o":2,"yr":61.0,"el":-704}
    ],
    "labels": [
      {"yr":6.5,"el":-12,"t":"0.045"},{"yr":8.86,"el":-51,"t":"0.030"},{"yr":12.93,"el":-49,"t":"0.015"},{"yr":14.93,"el":-72,"t":"0.000"},
      {"yr":30.07,"el":-18,"t":"0.030"},{"yr":43.0,"el":-10,"t":"0.030"},{"yr":53.0,"el":-18,"t":"0.015"},
      {"yr":26.57,"el":-195,"t":"−0.030"},{"yr":43.5,"el":-225,"t":"−0.015"},{"yr":13.29,"el":-311,"t":"0.000"}
    ],
    "labA": [{"yr":16.93,"el":-551,"t":"0.000"}],
    "labB": [{"yr":34.0,"el":-714,"t":"0.015"}],
    "labC": [{"yr":9.07,"el":-1280,"t":"0.000"}],
    "labD": [{"yr":11.21,"el":-1882,"t":"0.000"}],
    "stats": [
      {"yr":1.05,"el":65.7,"t":"max=0.070305"},{"yr":1.05,"el":29.1,"t":"min=-0.047689"}
    ],
    "heads": [
      {"yr":31.79,"el":85,"t":"g.e30_a03c.GJRAv4.TL319_t232_wgx3_hycom1_N75.2024.079"},
      {"yr":30.96,"el":27,"t":"PacificOcean, Salinity [psu], (model - obs)"}
    ],
    "bands": [
      {"lo":-0.075,"hi":-0.07,"v":-0.0725},{"lo":-0.07,"hi":-0.065,"v":-0.0675},{"lo":-0.065,"hi":-0.06,"v":-0.0625},{"lo":-0.06,"hi":-0.055,"v":-0.0575},{"lo":-0.055,"hi":-0.05,"v":-0.0525},{"lo":-0.05,"hi":-0.045,"v":-0.0475},{"lo":-0.045,"hi":-0.04,"v":-0.0425},{"lo":-0.04,"hi":-0.035,"v":-0.0375},{"lo":-0.035,"hi":-0.03,"v":-0.0325},{"lo":-0.03,"hi":-0.025,"v":-0.0275},{"lo":-0.025,"hi":-0.02,"v":-0.0225},{"lo":-0.02,"hi":-0.015,"v":-0.0175},{"lo":-0.015,"hi":-0.01,"v":-0.0125},{"lo":-0.01,"hi":-0.005,"v":-0.0075},{"lo":-0.005,"hi":0,"v":-0.0025},
      {"lo":0,"hi":0.005,"v":0.0025},{"lo":0.005,"hi":0.01,"v":0.0075},{"lo":0.01,"hi":0.015,"v":0.0125},{"lo":0.015,"hi":0.02,"v":0.0175},{"lo":0.02,"hi":0.025,"v":0.0225},{"lo":0.025,"hi":0.03,"v":0.0275},{"lo":0.03,"hi":0.035,"v":0.0325},{"lo":0.035,"hi":0.04,"v":0.0375},{"lo":0.04,"hi":0.045,"v":0.0425},{"lo":0.045,"hi":0.05,"v":0.0475},{"lo":0.05,"hi":0.055,"v":0.0525},{"lo":0.055,"hi":0.06,"v":0.0575},{"lo":0.06,"hi":0.065,"v":0.0625},{"lo":0.065,"hi":0.07,"v":0.0675},{"lo":0.07,"hi":0.075,"v":0.0725}
    ],
    "triTop": [
      {"cx":0,"cy":0.075,"cy2":0.075},{"cx":0.5,"cy":0.0825,"cy2":0.075},{"cx":1,"cy":0.075,"cy2":0.075}
    ],
    "triBot": [
      {"cx":0,"cy":-0.075,"cy2":-0.075},{"cx":0.5,"cy":-0.0825,"cy2":-0.075},{"cx":1,"cy":-0.075,"cy2":-0.075}
    ],
    "outline": [
      {"o":1,"cx":0,"cy":0.075},{"o":2,"cx":0.5,"cy":0.0825},{"o":3,"cx":1,"cy":0.075},{"o":4,"cx":1,"cy":-0.075},{"o":5,"cx":0.5,"cy":-0.0825},{"o":6,"cx":0,"cy":-0.075},{"o":7,"cx":0,"cy":0.075}
    ],
    "minor": [
      {"t":-0.075},{"t":-0.07},{"t":-0.065},{"t":-0.055},{"t":-0.05},{"t":-0.045},{"t":-0.035},{"t":-0.03},{"t":-0.025},{"t":-0.015},{"t":-0.01},{"t":-0.005},{"t":0.005},{"t":0.01},{"t":0.015},{"t":0.025},{"t":0.03},{"t":0.035},{"t":0.045},{"t":0.05},{"t":0.055},{"t":0.065},{"t":0.07},{"t":0.075}
    ]
  },
  "spacing": 18,
  "bounds": "flush",
  "hconcat": [
    {
      "width": 840,
      "height": 466,
      "layer": [
        {
          "data": {"name": "cells"},
          "mark": {"type": "rect", "strokeWidth": 0.6},
          "encoding": {
            "x": {"field": "x0", "type": "quantitative", "scale": {"domain": [1, 61], "nice": false, "zero": false}, "axis": {"values": [15, 30, 45, 60], "format": "04d", "title": "Time [Year]", "labelPadding": 4, "titlePadding": 8}},
            "x2": {"field": "x1"},
            "y": {"field": "e0", "type": "quantitative", "scale": {"domain": [-5500, -1000, -500, 0], "range": [466, 257, 232, 0], "nice": false, "zero": false}, "axis": {"values": [0, -100, -200, -300, -400, -500, -1000, -2000, -3000, -4000, -5000], "format": "d", "title": "Elevation [m]", "labelPadding": 4, "titlePadding": 12}},
            "y2": {"field": "e1"},
            "color": {"field": "v", "type": "quantitative", "legend": null, "scale": {"type": "threshold", "domain": [-0.075,-0.07,-0.065,-0.06,-0.055,-0.05,-0.045,-0.04,-0.035,-0.03,-0.025,-0.02,-0.015,-0.01,-0.005,0,0.005,0.01,0.015,0.02,0.025,0.03,0.035,0.04,0.045,0.05,0.055,0.06,0.065,0.07,0.075], "range": ["#1e001e","#4a0048","#6a0c6a","#6e1a8c","#4a28a8","#2c34c8","#1848e8","#0060ff","#2c6cff","#5078ff","#7890ff","#90b4ff","#aedcff","#c8f8ff","#dcfcff","#f2fdff","#fcfff2","#f6ffe2","#eeffc8","#e8ff9c","#e0ff60","#d6ff18","#d0e800","#c8c800","#bca800","#b08800","#a86c00","#a45400","#9c3800","#8a1c00","#6e0000","#300000"]}},
            "stroke": {"field": "v", "type": "quantitative", "legend": null, "scale": {"type": "threshold", "domain": [-0.075,-0.07,-0.065,-0.06,-0.055,-0.05,-0.045,-0.04,-0.035,-0.03,-0.025,-0.02,-0.015,-0.01,-0.005,0,0.005,0.01,0.015,0.02,0.025,0.03,0.035,0.04,0.045,0.05,0.055,0.06,0.065,0.07,0.075], "range": ["#1e001e","#4a0048","#6a0c6a","#6e1a8c","#4a28a8","#2c34c8","#1848e8","#0060ff","#2c6cff","#5078ff","#7890ff","#90b4ff","#aedcff","#c8f8ff","#dcfcff","#f2fdff","#fcfff2","#f6ffe2","#eeffc8","#e8ff9c","#e0ff60","#d6ff18","#d0e800","#c8c800","#bca800","#b08800","#a86c00","#a45400","#9c3800","#8a1c00","#6e0000","#300000"]}}
          }
        },
        {
          "mark": {"type": "rule", "color": "#000", "strokeWidth": 1.6, "strokeDash": [6, 4]},
          "encoding": {"y": {"datum": -500}}
        },
        {
          "data": {"name": "contours"},
          "mark": {"type": "line", "color": "#000", "strokeWidth": 1.8, "interpolate": "linear"},
          "encoding": {"x": {"field": "yr", "type": "quantitative"}, "y": {"field": "el", "type": "quantitative"}, "detail": {"field": "id"}, "order": {"field": "o"}}
        },
        {
          "data": {"name": "thick"},
          "mark": {"type": "line", "color": "#000", "strokeWidth": 3},
          "encoding": {"x": {"field": "yr", "type": "quantitative"}, "y": {"field": "el", "type": "quantitative"}, "detail": {"field": "id"}, "order": {"field": "o"}}
        },
        {
          "data": {"name": "labels"},
          "mark": {"type": "text", "fontSize": 20, "color": "#000", "align": "center", "baseline": "middle"},
          "encoding": {"x": {"field": "yr", "type": "quantitative"}, "y": {"field": "el", "type": "quantitative"}, "text": {"field": "t"}}
        },
        {
          "data": {"name": "labA"},
          "mark": {"type": "text", "fontSize": 20, "color": "#000", "align": "center", "baseline": "middle", "angle": 355},
          "encoding": {"x": {"field": "yr", "type": "quantitative"}, "y": {"field": "el", "type": "quantitative"}, "text": {"field": "t"}}
        },
        {
          "data": {"name": "labB"},
          "mark": {"type": "text", "fontSize": 20, "color": "#000", "align": "center", "baseline": "middle", "angle": 6},
          "encoding": {"x": {"field": "yr", "type": "quantitative"}, "y": {"field": "el", "type": "quantitative"}, "text": {"field": "t"}}
        },
        {
          "data": {"name": "labC"},
          "mark": {"type": "text", "fontSize": 20, "color": "#000", "align": "center", "baseline": "middle", "angle": 326},
          "encoding": {"x": {"field": "yr", "type": "quantitative"}, "y": {"field": "el", "type": "quantitative"}, "text": {"field": "t"}}
        },
        {
          "data": {"name": "labD"},
          "mark": {"type": "text", "fontSize": 20, "color": "#000", "align": "center", "baseline": "middle", "angle": 45},
          "encoding": {"x": {"field": "yr", "type": "quantitative"}, "y": {"field": "el", "type": "quantitative"}, "text": {"field": "t"}}
        },
        {
          "data": {"name": "stats"},
          "mark": {"type": "text", "fontSize": 16.5, "color": "#000", "align": "left", "baseline": "middle"},
          "encoding": {"x": {"field": "yr", "type": "quantitative"}, "y": {"field": "el", "type": "quantitative"}, "text": {"field": "t"}}
        },
        {
          "data": {"name": "heads"},
          "mark": {"type": "text", "fontSize": 16.5, "color": "#000", "align": "center", "baseline": "middle"},
          "encoding": {"x": {"field": "yr", "type": "quantitative"}, "y": {"field": "el", "type": "quantitative"}, "text": {"field": "t"}}
        }
      ]
    },
    {
      "width": 23,
      "height": 466,
      "view": {"stroke": null},
      "layer": [
        {
          "data": {"name": "bands"},
          "mark": {"type": "rect", "strokeWidth": 0.5},
          "encoding": {
            "x": {"datum": 0, "type": "quantitative", "scale": {"domain": [0, 1], "nice": false, "zero": false}, "axis": null},
            "x2": {"datum": 1},
            "y": {"field": "lo", "type": "quantitative", "scale": {"domain": [-0.0825, 0.0825], "nice": false, "zero": false}, "axis": {"orient": "right", "values": [-0.06, -0.04, -0.02, 0, 0.02, 0.04, 0.06], "format": ".2f", "title": null, "labelPadding": 4}},
            "y2": {"field": "hi"},
            "color": {"field": "v", "type": "quantitative", "legend": null, "scale": {"type": "threshold", "domain": [-0.075,-0.07,-0.065,-0.06,-0.055,-0.05,-0.045,-0.04,-0.035,-0.03,-0.025,-0.02,-0.015,-0.01,-0.005,0,0.005,0.01,0.015,0.02,0.025,0.03,0.035,0.04,0.045,0.05,0.055,0.06,0.065,0.07,0.075], "range": ["#1e001e","#4a0048","#6a0c6a","#6e1a8c","#4a28a8","#2c34c8","#1848e8","#0060ff","#2c6cff","#5078ff","#7890ff","#90b4ff","#aedcff","#c8f8ff","#dcfcff","#f2fdff","#fcfff2","#f6ffe2","#eeffc8","#e8ff9c","#e0ff60","#d6ff18","#d0e800","#c8c800","#bca800","#b08800","#a86c00","#a45400","#9c3800","#8a1c00","#6e0000","#300000"]}}
          }
        },
        {
          "data": {"name": "triTop"},
          "mark": {"type": "area", "color": "#300000"},
          "encoding": {"x": {"field": "cx", "type": "quantitative"}, "y": {"field": "cy", "type": "quantitative"}, "y2": {"field": "cy2"}}
        },
        {
          "data": {"name": "triBot"},
          "mark": {"type": "area", "color": "#1e001e"},
          "encoding": {"x": {"field": "cx", "type": "quantitative"}, "y": {"field": "cy", "type": "quantitative"}, "y2": {"field": "cy2"}}
        },
        {
          "data": {"name": "outline"},
          "mark": {"type": "line", "color": "#222", "strokeWidth": 0.9},
          "encoding": {"x": {"field": "cx", "type": "quantitative"}, "y": {"field": "cy", "type": "quantitative"}, "order": {"field": "o"}}
        },
        {
          "data": {"name": "minor"},
          "mark": {"type": "rule", "color": "#000", "strokeWidth": 0.8},
          "encoding": {"x": {"datum": 1}, "x2": {"datum": 1.13}, "y": {"field": "t", "type": "quantitative"}}
        }
      ]
    }
  ]
}
